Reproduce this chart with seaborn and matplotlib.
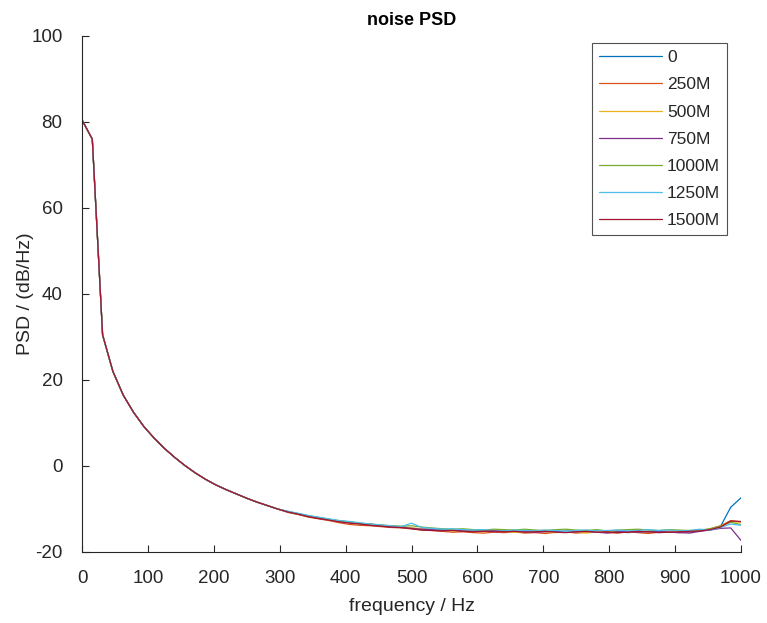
import numpy as np
import pandas as pd
import matplotlib
matplotlib.use("Agg")
import matplotlib.pyplot as plt
import seaborn as sns

# frequency grid (65 points, 0..1000 Hz)
freq = np.linspace(0, 1000, 65)

series_labels = ["0", "250M", "500M", "750M", "1000M", "1250M", "1500M"]
colors = ["#0072BD", "#D95319", "#EDB120", "#7E2F8E", "#77AC30", "#4DBEEE", "#A2142F"]

# shared low-frequency part (idx 0..19)
head = [80.5, 76.0, 30.5, 22.0, 16.5, 12.5, 9.2, 6.5, 4.1, 2.0,
        0.1, -1.6, -3.1, -4.4, -5.5, -6.5, -7.5, -8.4, -9.2, -10.0]

tail_0 = [-10.6, -11.1, -11.6, -12.0, -12.4,
          -12.8, -13.0, -13.4, -13.5, -13.8,
          -14.0, -14.1, -14.5, -14.6, -14.8,
          -14.7, -15.0, -14.9, -15.1, -15.0,
          -15.2, -15.1, -15.3, -15.2, -15.0,
          -15.2, -15.3, -15.1, -15.2, -15.4,
          -15.1, -15.3, -15.2, -15.5, -15.3,
          -15.2, -15.1, -15.3, -15.2, -15.4,
          -15.0, -14.8, -14.1, -9.6, -7.4]
tail_250 = [-10.8, -11.3, -11.9, -12.3, -12.7,
            -13.2, -13.6, -13.8, -13.9, -14.1,
            -14.3, -14.4, -14.6, -14.9, -15.0,
            -15.2, -15.4, -15.3, -15.5, -15.6,
            -15.4, -15.5, -15.3, -15.6, -15.5,
            -15.7, -15.4, -15.3, -15.6, -15.4,
            -15.2, -15.5, -15.6, -15.3, -15.5,
            -15.7, -15.4, -15.3, -15.5, -15.3,
            -15.1, -14.6, -13.9, -12.7, -13.0]
tail_500 = [-10.7, -11.2, -11.7, -12.1, -12.6,
            -12.9, -13.2, -13.5, -13.6, -13.9,
            -14.1, -14.3, -14.4, -14.6, -14.8,
            -15.0, -15.1, -15.0, -15.2, -15.3,
            -15.1, -15.2, -15.4, -15.3, -15.1,
            -15.3, -15.5, -15.2, -15.4, -15.6,
            -15.3, -15.2, -15.4, -15.3, -15.1,
            -15.4, -15.2, -15.4, -15.1, -15.3,
            -15.1, -14.7, -14.0, -12.9, -13.1]
tail_750 = [-10.7, -11.2, -11.7, -12.2, -12.5,
            -12.9, -13.1, -13.4, -13.7, -13.9,
            -14.2, -14.3, -14.5, -14.7, -14.8,
            -15.0, -14.9, -15.1, -15.2, -15.1,
            -15.3, -15.2, -15.0, -15.2, -15.4,
            -15.3, -15.1, -15.4, -15.3, -15.2,
            -15.4, -15.6, -15.3, -15.2, -15.4,
            -15.3, -15.2, -15.4, -15.5, -15.6,
            -15.2, -14.9, -14.5, -14.4, -17.3]
tail_1000 = [-10.6, -11.1, -11.6, -12.0, -12.4,
             -12.7, -13.0, -13.3, -13.5, -13.7,
             -13.9, -14.0, -13.9, -14.2, -14.4,
             -14.6, -14.7, -14.6, -14.8, -14.9,
             -14.7, -14.8, -14.9, -14.7, -14.9,
             -15.0, -14.8, -14.7, -14.9, -15.0,
             -14.8, -15.1, -14.9, -14.8, -14.7,
             -14.9, -15.0, -14.8, -14.9, -15.0,
             -14.9, -14.6, -14.0, -13.1, -13.6]
tail_1250 = [-10.5, -11.0, -11.5, -11.9, -12.3,
             -12.7, -12.9, -13.2, -13.5, -13.7,
             -13.9, -14.1, -13.3, -14.3, -14.5,
             -14.7, -14.6, -14.8, -14.9, -14.8,
             -15.0, -15.1, -14.9, -15.0, -15.1,
             -14.9, -15.0, -15.2, -15.0, -14.9,
             -15.1, -15.0, -14.9, -15.1, -15.0,
             -14.8, -15.0, -14.9, -15.1, -15.0,
             -14.7, -14.9, -14.3, -13.5, -13.8]
tail_1500 = [-10.7, -11.2, -11.8, -12.2, -12.6,
             -13.0, -13.3, -13.5, -13.8, -14.0,
             -14.2, -14.3, -14.6, -14.9, -15.0,
             -15.1, -15.0, -15.2, -15.3, -15.2,
             -15.1, -15.3, -15.2, -15.4, -15.3,
             -15.2, -15.4, -15.5, -15.3, -15.2,
             -15.4, -15.3, -15.5, -15.4, -15.2,
             -15.3, -15.5, -15.4, -15.3, -15.2,
             -15.1, -14.8, -14.2, -12.8, -12.9]

tails = [tail_0, tail_250, tail_500, tail_750, tail_1000, tail_1250, tail_1500]

rows = []
for lab, tl in zip(series_labels, tails):
    vals = head + tl
    for f, v in zip(freq, vals):
        rows.append({"freq": f, "psd": v, "series": lab})
df = pd.DataFrame(rows)

sns.set_style("white")
plt.rcParams["font.family"] = ["Liberation Sans", "DejaVu Sans"]
plt.rcParams["axes.unicode_minus"] = False

fig = plt.figure(figsize=(7.67, 6.23), dpi=100)
ax = fig.add_axes([82 / 767, 1 - 552 / 623, (741 - 82) / 767, (552 - 36) / 623])

sns.lineplot(data=df, x="freq", y="psd", hue="series", hue_order=series_labels,
             palette=colors, estimator=None, errorbar=None, linewidth=0.9, ax=ax)

ax.set_xlim(0, 1000)
ax.set_ylim(-20, 100)
ax.set_xticks(np.arange(0, 1001, 100))
ax.set_yticks(np.arange(-20, 101, 20))
for s in ["top", "right"]:
    ax.spines[s].set_visible(False)
for s in ["left", "bottom"]:
    ax.spines[s].set_color("#262626")
    ax.spines[s].set_linewidth(0.8)
ax.tick_params(bottom=True, left=True, direction="in", length=5, width=0.8,
               colors="#262626", labelsize=13.5, labelcolor="#262626")
ax.tick_params(axis="x", pad=13)
ax.tick_params(axis="y", pad=14)
ax.set_xlabel("frequency / Hz", fontsize=14, color="#262626", labelpad=8)
ax.set_ylabel("PSD / (dB/Hz)", fontsize=14, color="#262626", labelpad=-2)
ax.set_title("noise PSD", fontsize=13, fontweight="bold", color="black", pad=8)

leg = ax.legend(loc="upper right", bbox_to_anchor=(0.979, 0.986), fontsize=12.5,
                handlelength=3.6, labelspacing=0.69, frameon=True, fancybox=False,
                borderpad=0.4, handletextpad=0.3, borderaxespad=0)
leg.get_frame().set_edgecolor("#262626")
leg.get_frame().set_linewidth(0.8)
for line in leg.get_lines():
    line.set_linewidth(0.9)

fig.savefig("out.png", dpi=100)
